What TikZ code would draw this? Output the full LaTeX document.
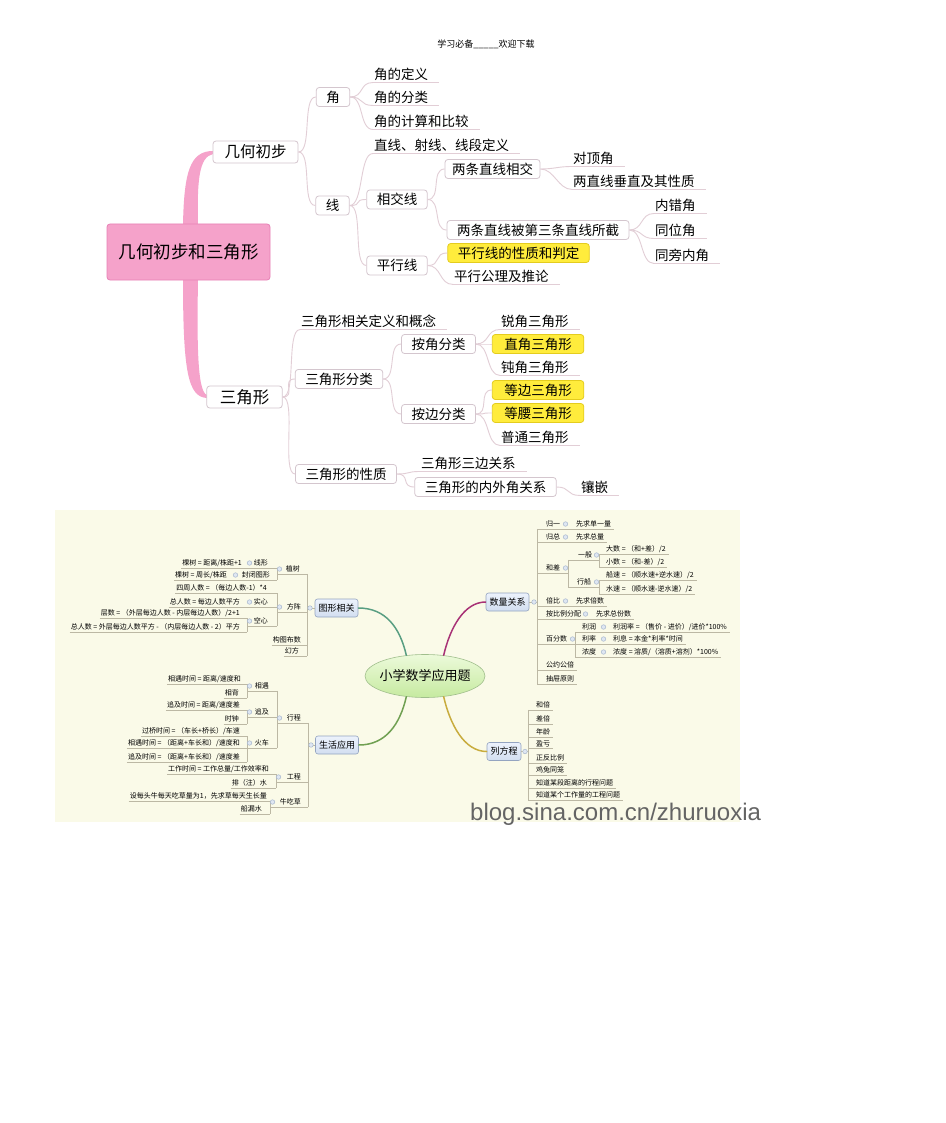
\documentclass[tikz,border=0pt]{standalone}
\usepackage{fontspec}
\setmainfont{Noto Sans CJK SC}
\newfontfamily\wmfont{Liberation Sans}
\usetikzlibrary{shapes.geometric}
\newcommand\fs[1]{\fontsize{#1}{#1}\selectfont}
\definecolor{tlc}{RGB}{226,206,214}
\definecolor{tbc}{RGB}{212,198,206}
\definecolor{pinkf}{RGB}{245,162,202}
\definecolor{pinkd}{RGB}{232,128,182}
\definecolor{hl}{RGB}{255,236,60}
\definecolor{hlb}{RGB}{228,204,30}
\definecolor{bgc}{RGB}{250,250,232}
\definecolor{lnc}{RGB}{188,184,164}
\definecolor{c1}{RGB}{88,158,130}
\definecolor{c2}{RGB}{168,50,118}
\definecolor{c3}{RGB}{112,160,82}
\definecolor{c4}{RGB}{200,172,62}
% top map helpers
\newcommand\tl[4]{\node[tleaf,anchor=west] (#1) at (#2,#3) {#4};
  \draw[tconn] (#1.south west) -- ([xshift=10]#1.south east);}
\newcommand\cv[2]{\draw[tconn] (#1) .. controls +(14,0) and +(-14,0) .. (#2);}
% lower map helpers
\newcommand\Ln[4]{\node[lt,anchor=east] (#1) at (#2,#3) {#4};}
\newcommand\Rn[4]{\node[lt,anchor=west] (#1) at (#2,#3) {#4};}
\newcommand\ulL[2]{\draw[ln] (#1.south west) -- (#1.south -| #2);}
\newcommand\ulLp[3]{\draw[ln] (#1.south -| #3) -- (#1.south -| #2);}
\newcommand\bulL[2]{\node[bul,xshift=2.5] at (#1.west -| #2) {};}
\newcommand\ulR[2]{\draw[ln] (#1.south -| #2) -- ([xshift=2]#1.south east);}
\newcommand\ulRp[3]{\draw[ln] (#1.south -| #2) -- (#1.south -| #3);}
\newcommand\bulR[2]{\node[bul,xshift=-2.5] at (#1.east -| #2) {};}
\newcommand\spn[3]{\draw[ln] (#2.south -| #1) -- (#3.south -| #1);}
\begin{document}
\begin{tikzpicture}[x=1pt,y=-1pt,
  tconn/.style={draw=tlc,line width=0.9pt},
  tbox/.style={draw=tbc,fill=white,rounded corners=3pt,line width=0.8pt,inner xsep=10pt,inner ysep=0pt,minimum height=19pt,font=\fs{13.5}},
  hbox/.style={tbox,fill=hl,draw=hlb},
  tleaf/.style={inner xsep=1pt,inner ysep=2pt,font=\fs{13.5}},
  lt/.style={inner xsep=1pt,inner ysep=1.5pt,font=\fs{7}},
  ln/.style={draw=lnc,line width=0.6pt},
  bul/.style={circle,draw={rgb,255:red,168;green,184;blue,206},fill={rgb,255:red,222;green,230;blue,242},inner sep=0pt,minimum size=4.5pt,line width=0.5pt},
  lbox/.style={draw={rgb,255:red,148;green,164;blue,192},top color={rgb,255:red,236;green,242;blue,252},bottom color={rgb,255:red,210;green,222;blue,240},rounded corners=2.5pt,font=\fs{9},inner xsep=3.5pt,inner ysep=0pt,minimum height=18pt,line width=0.6pt},
  col/.style={line width=1.5pt,line cap=round}
]
\useasboundingbox (0,0) rectangle (945,1123);
\fill[white] (0,0) rectangle (945,1123);

% header
\node[font=\fs{9}] (hd) at (486,44) {学习必备\_\_\_\_\_欢迎下载};

% ================= TOP MIND MAP =================
\fill[pinkf] (183,225) .. controls (184,172) and (190,151) .. (213,151) -- (213,154) .. controls (199,157) and (197,180) .. (198,225) -- cycle;
\fill[pinkf] (183,279) .. controls (183,372) and (188,397) .. (207,398) -- (207,395) .. controls (197,392) and (197,340) .. (198,279) -- cycle;
\node[draw=pinkd,fill=pinkf,rounded corners=3pt,minimum width=163pt,minimum height=56pt,font=\fs{17.5},line width=0.8pt] (root) at (188.5,252) {几何初步和三角形};

\node[tbox,font=\fs{15.5},inner xsep=11.5pt,minimum height=22pt] (jh) at (255.5,152) {几何初步};
\node[tbox,font=\fs{16.5},inner xsep=13pt,minimum height=22pt] (sj) at (244.5,397) {三角形};
\node[tbox] (jiao) at (333,97) {角};
\node[tbox] (xian) at (332.5,205.5) {线};
\node[tbox] (xjx) at (397,199.5) {相交线};
\node[tbox] (pxx) at (397,265.5) {平行线};
\node[tbox,inner xsep=7pt] (lxj) at (492.5,169) {两条直线相交};
\node[tbox] (lbj) at (538,230) {两条直线被第三条直线所截};
\node[hbox] (pxz) at (518.5,253) {平行线的性质和判定};
\node[tbox] (sfl) at (339,379) {三角形分类};
\node[tbox] (ajf) at (438.5,344) {按角分类};
\node[tbox] (abf) at (438.5,414) {按边分类};
\node[hbox,inner xsep=12pt] (zj3) at (538,344) {直角三角形};
\node[hbox,inner xsep=12pt] (db3) at (538,390) {等边三角形};
\node[hbox,inner xsep=12pt] (dy3) at (538,413) {等腰三角形};
\node[tbox] (sxz) at (346,474) {三角形的性质};
\node[tbox] (nwj) at (485.5,487) {三角形的内外角关系};

\tl{l1}{373}{74}{角的定义}
\tl{l2}{373}{97}{角的分类}
\tl{l3}{373}{121}{角的计算和比较}
\tl{l4}{373}{145}{直线、射线、线段定义}
\tl{l5}{572}{158}{对顶角}
\tl{l6}{572}{181}{两直线垂直及其性质}
\tl{l7}{654}{205}{内错角}
\tl{l8}{654}{230}{同位角}
\tl{l9}{654}{255}{同旁内角}
\tl{l10}{453}{276}{平行公理及推论}
\tl{l11}{300}{321}{三角形相关定义和概念}
\tl{l12}{500}{321}{锐角三角形}
\tl{l13}{500}{367}{钝角三角形}
\tl{l14}{500}{437}{普通三角形}
\tl{l15}{420}{463}{三角形三边关系}
\tl{l16}{580}{487}{镶嵌}

\cv{jh.east}{jiao.west} \cv{jh.east}{xian.west}
\cv{jiao.east}{l1.south west} \cv{jiao.east}{l2.south west} \cv{jiao.east}{l3.south west}
\cv{xian.east}{l4.south west} \cv{xian.east}{xjx.west} \cv{xian.east}{pxx.west}
\cv{xjx.east}{lxj.west} \cv{xjx.east}{lbj.west}
\cv{lxj.east}{l5.south west} \cv{lxj.east}{l6.south west}
\cv{lbj.east}{l7.south west} \cv{lbj.east}{l8.south west} \cv{lbj.east}{l9.south west}
\cv{pxx.east}{pxz.west} \cv{pxx.east}{l10.south west}
\cv{sj.east}{l11.south west} \cv{sj.east}{sfl.west} \cv{sj.east}{sxz.west}
\cv{sfl.east}{ajf.west} \cv{sfl.east}{abf.west}
\cv{ajf.east}{l12.south west} \cv{ajf.east}{zj3.west} \cv{ajf.east}{l13.south west}
\cv{abf.east}{db3.west} \cv{abf.east}{dy3.west} \cv{abf.east}{l14.south west}
\cv{sxz.east}{l15.south west} \cv{sxz.east}{nwj.west}
\cv{nwj.east}{l16.south west}

% ================= LOWER MIND MAP =================
\fill[bgc] (55,510) rectangle (740,822);

\node[ellipse,minimum width=120pt,minimum height=43pt,inner sep=0pt,draw={rgb,255:red,160;green,190;blue,140},top color={rgb,255:red,236;green,250;blue,218},bottom color={rgb,255:red,198;green,234;blue,160},line width=0.6pt] (E) at (425,676) {};
\node[font=\fs{13}] (Et) at (E.center) {小学数学应用题};

\node[lbox] (tx) at (336.5,608) {图形相关};
\node[lbox] (sl) at (507.5,602) {数量关系};
\node[lbox] (sh) at (337,745) {生活应用};
\node[lbox] (lf) at (504,751.5) {列方程};

\draw[col,c1] (E.132) .. controls (400,628) and (386,608) .. (tx.east);
\draw[col,c2] (E.48) .. controls (450,628) and (464,602) .. (sl.west);
\draw[col,c3] (E.228) .. controls (400,724) and (386,745) .. (sh.east);
\draw[col,c4] (E.312) .. controls (450,724) and (464,751.5) .. (lf.west);

% spine coordinates
\coordinate (X307) at (307,0);
\coordinate (X277) at (277,0);
\coordinate (X247) at (247,0);
\coordinate (X233) at (233,0);
\coordinate (X308) at (308,0);
\coordinate (X276) at (276,0);
\coordinate (X270) at (270,0);
\coordinate (X537) at (537,0);
\coordinate (X568) at (568,0);
\coordinate (X599) at (599,0);
\coordinate (X588) at (588,0);
\coordinate (X575) at (575,0);
\coordinate (X606) at (606,0);
\coordinate (X528) at (528,0);

% ---- 图形相关 ----
\Ln{zs}{301}{569}{植树}
\Ln{fz}{302}{607}{方阵}
\Ln{gt}{302}{640}{构图布数}
\Ln{hf}{300}{651}{幻方}
\ulLp{zs}{X307}{X277} \ulLp{fz}{X307}{X277}
\ulL{gt}{X307} \ulL{hf}{X307}
\spn{X307}{zs}{hf}
\draw[ln] (tx.west) -- (tx.west -| X307);
\Ln{xx}{269}{563}{线形}
\Ln{fb}{271}{575}{封闭图形}
\ulLp{xx}{X277}{X247} \ulLp{fb}{X277}{X233}
\spn{X277}{xx}{fb}
\Ln{a1}{243}{563}{棵树 = 距离/株距+1}
\Ln{a2}{228}{575}{棵树 = 周长/株距}
\ulL{a1}{X247} \ulL{a2}{X233}
\Ln{b0}{268}{588}{四周人数 = （每边人数-1）*4}
\Ln{sx}{269}{602}{实心}
\Ln{kx}{269}{621}{空心}
\ulL{b0}{X277} \ulLp{sx}{X277}{X247} \ulLp{kx}{X277}{X247}
\spn{X277}{b0}{kx}
\Ln{b1}{241}{602}{总人数 = 每边人数平方}
\Ln{b2}{241}{613}{层数 = （外层每边人数 - 内层每边人数）/2+1}
\Ln{b3}{241}{627}{总人数 = 外层每边人数平方 - （内层每边人数 - 2）平方}
\ulL{b1}{X247} \ulL{b2}{X247} \ulL{b3}{X247}
\spn{X247}{b2}{b3}
\node[bul,xshift=3] at (tx.west -| X307) {};
\bulL{zs}{X277} \bulL{fz}{X277} \bulL{xx}{X247} \bulL{fb}{X233} \bulL{sx}{X247} \bulL{kx}{X247}

% ---- 生活应用 ----
\Ln{xc}{302}{718}{行程}
\Ln{gc}{302}{777}{工程}
\Ln{nc}{302}{802}{牛吃草}
\ulLp{xc}{X308}{X277} \ulLp{gc}{X308}{X276} \ulLp{nc}{X308}{X270}
\spn{X308}{xc}{nc}
\draw[ln] (sh.west) -- (sh.west -| X308);
\Ln{xy}{270}{686}{相遇}
\Ln{zj}{270}{712}{追及}
\Ln{hc}{270}{743}{火车}
\ulLp{xy}{X277}{X247} \ulLp{zj}{X277}{X247} \ulLp{hc}{X277}{X247}
\spn{X277}{xy}{hc}
\Ln{c1}{242}{679}{相遇时间 = 距离/速度和}
\Ln{c2}{240}{693}{相背}
\Ln{c3}{241}{705}{追及时间 = 距离/速度差}
\Ln{c4}{240}{719}{时钟}
\Ln{c5}{241}{731}{过桥时间 = （车长+桥长）/车速}
\Ln{c6}{241}{743}{相遇时间 = （距离+车长和）/速度和}
\Ln{c7}{241}{757}{追及时间 = （距离+车长和）/速度差}
\ulL{c1}{X247} \ulL{c2}{X247} \ulL{c3}{X247} \ulL{c4}{X247}
\ulL{c5}{X247} \ulL{c6}{X247} \ulL{c7}{X247}
\spn{X247}{c1}{c2} \spn{X247}{c3}{c4} \spn{X247}{c5}{c7}
\Ln{c8}{270}{769}{工作时间 = 工作总量/工作效率和}
\Ln{c9}{268}{783}{排（注）水}
\ulL{c8}{X276} \ulL{c9}{X276}
\spn{X276}{c8}{c9}
\Ln{c10}{268}{796}{设每头牛每天吃草量为1，先求草每天生长量}
\Ln{c11}{263}{809}{船漏水}
\ulL{c10}{X270} \ulL{c11}{X270}
\spn{X270}{c10}{c11}
\node[bul,xshift=3] at (sh.west -| X308) {};
\bulL{xc}{X277} \bulL{gc}{X276} \bulL{nc}{X270}
\bulL{xy}{X247} \bulL{zj}{X247} \bulL{hc}{X247}

% ---- 数量关系 ----
\draw[ln] (sl.east) -- (sl.east -| X537);
\Rn{g1}{545}{524}{归一}
\Rn{g2}{545}{537}{归总}
\Rn{g3}{545}{568}{和差}
\Rn{g4}{545}{601}{倍比}
\Rn{g5}{545}{614}{按比例分配}
\Rn{g6}{545}{639}{百分数}
\Rn{g7}{545}{665}{公约公倍}
\Rn{g8}{545}{679}{抽屉原则}
\ulRp{g1}{X537}{X568} \ulRp{g2}{X537}{X568} \ulRp{g3}{X537}{X568}
\ulRp{g4}{X537}{X568} \ulRp{g5}{X537}{X588} \ulRp{g6}{X537}{X575}
\ulR{g7}{X537} \ulR{g8}{X537}
\spn{X537}{g1}{g8}
\Rn{h1}{575}{524}{先求单一量}
\Rn{h2}{575}{537}{先求总量}
\Rn{h4}{575}{601}{先求倍数}
\Rn{h5}{595}{614}{先求总份数}
\ulR{h1}{X568} \ulR{h2}{X568} \ulR{h4}{X568} \ulR{h5}{X588}
\Rn{g31}{577}{555}{一般}
\Rn{g32}{576}{582}{行船}
\ulRp{g31}{X568}{X599} \ulRp{g32}{X568}{X599}
\spn{X568}{g31}{g32}
\Rn{h31}{605}{549}{大数 = （和+差）/2}
\Rn{h32}{605}{562}{小数 = （和-差）/2}
\Rn{h33}{605}{575}{船速 = （顺水速+逆水速）/2}
\Rn{h34}{605}{589}{水速 = （顺水速-逆水速）/2}
\ulR{h31}{X599} \ulR{h32}{X599} \ulR{h33}{X599} \ulR{h34}{X599}
\spn{X599}{h31}{h32} \spn{X599}{h33}{h34}
\Rn{g61}{581}{627}{利润}
\Rn{g62}{581}{639}{利率}
\Rn{g63}{581}{652}{浓度}
\ulRp{g61}{X575}{X606} \ulRp{g62}{X575}{X606} \ulRp{g63}{X575}{X606}
\spn{X575}{g61}{g63}
\Rn{h61}{612}{627}{利润率 = （售价 - 进价）/进价*100\%}
\Rn{h62}{612}{639}{利息 = 本金*利率*时间}
\Rn{h63}{612}{652}{浓度 = 溶质/（溶质+溶剂）*100\%}
\ulR{h61}{X606} \ulR{h62}{X606} \ulR{h63}{X606}
\node[bul,xshift=-3] at (sl.east -| X537) {};
\bulR{g1}{X568} \bulR{g2}{X568} \bulR{g3}{X568} \bulR{g4}{X568} \bulR{g5}{X588} \bulR{g6}{X575}
\bulR{g31}{X599} \bulR{g32}{X599}
\bulR{g61}{X606} \bulR{g62}{X606} \bulR{g63}{X606}

% ---- 列方程 ----
\draw[ln] (lf.east) -- (lf.east -| X528);
\Rn{k1}{535}{705}{和倍}
\Rn{k2}{535}{719}{差倍}
\Rn{k3}{535}{732}{年龄}
\Rn{k4}{535}{744}{盈亏}
\Rn{k5}{535}{758}{正反比例}
\Rn{k6}{535}{770}{鸡兔同笼}
\Rn{k7}{535}{783}{知道某段距离的行程问题}
\Rn{k8}{535}{795}{知道某个工作量的工程问题}
\ulR{k1}{X528} \ulR{k2}{X528} \ulR{k3}{X528} \ulR{k4}{X528}
\ulR{k5}{X528} \ulR{k6}{X528} \ulR{k7}{X528} \ulR{k8}{X528}
\spn{X528}{k1}{k8}
\node[bul,xshift=-3] at (lf.east -| X528) {};

% watermark
\node[font=\wmfont\fontsize{24}{24}\selectfont,text={rgb,255:red,100;green,100;blue,100},anchor=base west,inner sep=0pt] (wm) at (470,820) {blog.sina.com.cn/zhuruoxia};
\end{tikzpicture}
\end{document}
